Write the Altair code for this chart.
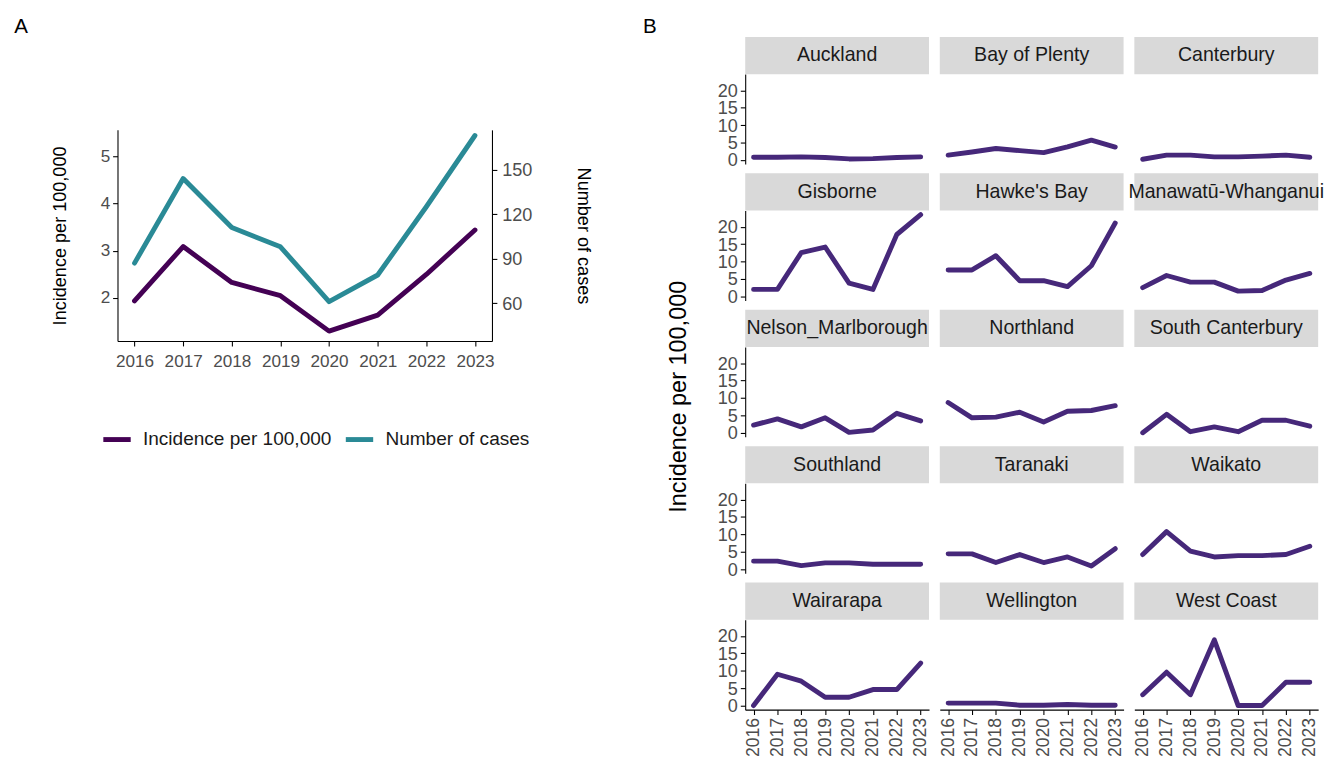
import altair as alt
import pandas as pd

FONT = "Liberation Sans"

# ---------------- Panel A data ----------------
years = [2016, 2017, 2018, 2019, 2020, 2021, 2022, 2023]
incidence = [1.94, 3.09, 2.33, 2.05, 1.30, 1.64, 2.50, 3.44]
cases = [87, 144, 111, 98, 61, 79, 125, 173]
series_names = ["Incidence per 100,000", "Number of cases"]
series_colors = ["#440154", "#2A8A96"]

# ---------------- Panel B data ----------------
regions = ["Auckland", "Bay of Plenty", "Canterbury", "Gisborne", "Hawke's Bay",
           "Manawatū-Whanganui", "Nelson_Marlborough", "Northland", "South Canterbury",
           "Southland", "Taranaki", "Waikato", "Wairarapa", "Wellington", "West Coast"]
auckland = [0.8, 0.8, 0.9, 0.7, 0.3, 0.4, 0.7, 0.9]
bay_of_plenty = [1.4, 2.3, 3.3, 2.7, 2.1, 3.8, 5.7, 3.7]
canterbury = [0.2, 1.4, 1.4, 0.9, 0.9, 1.1, 1.4, 0.8]
gisborne = [2.0, 2.0, 12.6, 14.2, 3.8, 2.0, 17.8, 23.5]
hawkes_bay = [7.6, 7.6, 11.7, 4.5, 4.5, 2.8, 8.8, 21.1]
manawatu_whanganui = [2.5, 6.0, 4.1, 4.1, 1.5, 1.7, 4.7, 6.6]
nelson_marlborough = [2.2, 4.0, 1.7, 4.3, 0.1, 0.8, 5.6, 3.4]
northland = [8.7, 4.3, 4.5, 5.9, 3.1, 6.2, 6.4, 7.8]
south_canterbury = [0.0, 5.3, 0.3, 1.7, 0.3, 3.6, 3.6, 1.9]
southland = [2.3, 2.3, 1.0, 1.8, 1.8, 1.4, 1.4, 1.4]
taranaki = [4.4, 4.4, 1.9, 4.2, 1.9, 3.5, 0.9, 5.9]
waikato = [4.2, 10.8, 5.2, 3.5, 3.9, 3.9, 4.2, 6.6]
wairarapa = [0.0, 9.0, 7.0, 2.4, 2.4, 4.6, 4.6, 12.2]
wellington = [0.7, 0.7, 0.7, 0.1, 0.1, 0.3, 0.1, 0.1]
west_coast = [3.1, 9.6, 3.1, 18.9, 0.0, 0.0, 6.7, 6.7]

region_series = [auckland, bay_of_plenty, canterbury, gisborne, hawkes_bay,
                 manawatu_whanganui, nelson_marlborough, northland, south_canterbury,
                 southland, taranaki, waikato, wairarapa, wellington, west_coast]

dfA = pd.DataFrame({"year": years, "incidence": incidence, "cases": cases})
rows = []
for name, vals in zip(regions, region_series):
    for y, v in zip(years, vals):
        rows.append({"region": name, "year": y, "value": v})
dfB = pd.DataFrame(rows)

# ---------------- Panel A ----------------
A_W, A_H = 383, 216
SPACER_H = 57
color_scale = alt.Scale(domain=series_names, range=series_colors)
legend = alt.Legend(orient="none", legendX=-17, legendY=357, direction="horizontal",
                    title=None, symbolType="stroke", symbolStrokeWidth=5, symbolSize=784,
                    labelFontSize=19.5, labelFont=FONT, labelColor="#1A1A1A", labelLimit=500,
                    columnPadding=4, labelOffset=10)

xA = alt.X("year:Q", scale=alt.Scale(domain=[2015.65, 2023.35], nice=False, zero=False),
           axis=alt.Axis(values=years, format="d", title=None, labelFontSize=17.5,
                         tickSize=5, labelPadding=7))

line_inc = alt.Chart(dfA).transform_calculate(series="'" + series_names[0] + "'").mark_line(
    strokeWidth=5, strokeCap="round", strokeJoin="round").encode(
    x=xA,
    y=alt.Y("incidence:Q", scale=alt.Scale(domain=[1.09, 5.56], nice=False, zero=False),
            axis=alt.Axis(values=[2, 3, 4, 5], title="Incidence per 100,000", orient="left",
                          labelFontSize=17.5, titleFontSize=18.5, tickSize=5, labelPadding=3,
                          titlePadding=31)),
    color=alt.Color("series:N", scale=color_scale, legend=legend),
)
line_cases = alt.Chart(dfA).transform_calculate(series="'" + series_names[1] + "'").mark_line(
    strokeWidth=5, strokeCap="round", strokeJoin="round").encode(
    x=xA,
    y=alt.Y("cases:Q", scale=alt.Scale(domain=[34.5, 176.8], nice=False, zero=False),
            axis=alt.Axis(values=[60, 90, 120, 150], title="Number of cases", orient="right",
                          labelFontSize=18.5, titleFontSize=18.5, tickSize=5, labelPadding=5,
                          titlePadding=43)),
    color=alt.Color("series:N", scale=color_scale, legend=legend),
)
panelA = alt.layer(line_inc, line_cases).resolve_scale(y="independent").properties(
    width=A_W, height=A_H
)
spacer = alt.Chart(dfA).transform_filter("datum.year == 2016").mark_rect(color="white").encode(
    x=alt.value(0), x2=alt.value(A_W), y=alt.value(0), y2=alt.value(SPACER_H)
).properties(width=A_W, height=SPACER_H)

panelA_wrapped = alt.vconcat(spacer, panelA, spacing=0).properties(
    title=alt.TitleParams("A", anchor="start", fontSize=21, fontWeight="normal", dx=-38,
                          offset=38, color="black")
)

# ---------------- Panel B ----------------
B_W, B_H = 188, 92
STRIP = 38
line_b = alt.Chart().mark_line(color="#46287A", strokeWidth=5, strokeCap="round",
                               strokeJoin="round").encode(
    x=alt.X("year:Q", scale=alt.Scale(domain=[2015.65, 2023.35], nice=False, zero=False),
            axis=alt.Axis(values=years, format="d", title=None, labelAngle=-90,
                          labelFontSize=18, tickSize=5, labelPadding=3, labelOverlap=False,
                          labelAlign="right", labelBaseline="middle")),
    y=alt.Y("value:Q", scale=alt.Scale(domain=[-1.18, 24.7], nice=False, zero=False),
            axis=alt.Axis(values=[0, 5, 10, 15, 20], title=None, labelFontSize=18.5,
                          tickSize=5, labelPadding=3, labelOverlap=False)),
)
strip = alt.Chart().transform_filter("datum.year == 2016").mark_rect(color="#D9D9D9").encode(
    x=alt.value(0), x2=alt.value(B_W), y=alt.value(-STRIP), y2=alt.value(0)
)
strip_text = alt.Chart().transform_filter("datum.year == 2016").mark_text(
    fontSize=20, font=FONT, color="#1A1A1A", baseline="middle", align="center"
).encode(x=alt.value(B_W / 2), y=alt.value(-STRIP / 2), text="region:N")

panelB_facet = alt.layer(strip, strip_text, line_b, data=dfB).properties(
    width=B_W, height=B_H
).facet(
    facet=alt.Facet("region:N", sort=regions,
                    header=alt.Header(labels=False, title=None, labelFontSize=0,
                                      labelPadding=0, labelColor="transparent")),
    columns=3,
    spacing={"row": 47.5, "column": 11},
    bounds="flush",
).properties(
    title=alt.TitleParams("Incidence per 100,000", orient="left", anchor="middle",
                          fontSize=24, fontWeight="normal", color="black", offset=27)
)

panelB = alt.vconcat(panelB_facet).properties(
    title=alt.TitleParams("B", anchor="start", fontSize=21, fontWeight="normal", dx=-25,
                          offset=0, color="black")
)

chart = alt.hconcat(panelA_wrapped, panelB, spacing=51).properties(
    padding={"left": 6, "top": 0, "right": 0, "bottom": 0}
).configure_view(stroke=None).configure_axis(
    grid=False, domainColor="black", tickColor="black", domainWidth=1.1, tickWidth=1.1,
    labelColor="#4D4D4D", labelFont=FONT, titleFont=FONT, titleColor="black",
    titleFontWeight="normal"
).configure_title(font=FONT)

chart.save("out.html", embed_options={"renderer": "svg", "actions": False})
